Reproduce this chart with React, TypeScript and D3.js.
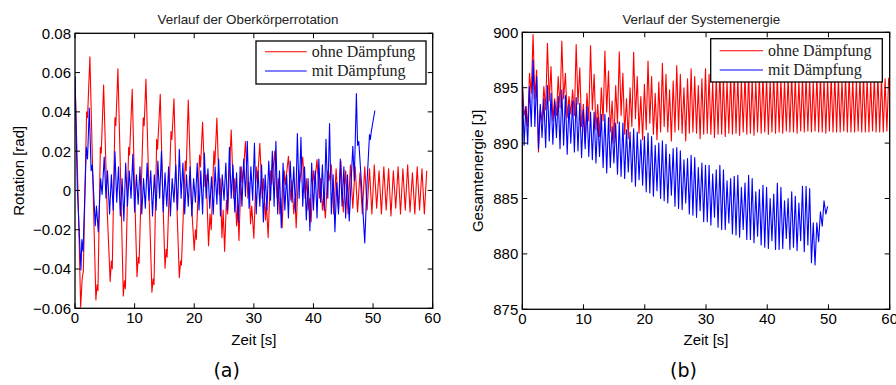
import React from "react";
import * as d3 from "d3";

// ---------- DATA ----------
// (a) Oberkörperrotation [rad] – ohne Dämpfung: [t, value] extremes
const rotOhneHead: [number, number][] = [
  [0, 0.058], [0.5, 0.0], [0.95, -0.0595], [1.2, -0.045], [1.4, -0.041], [1.95, 0.040], [2.1, 0.037], [2.5, 0.068],
  [3.0, 0.005], [3.5, -0.0557], [3.7, -0.048], [3.85, -0.051], [4.25, 0.022], [4.4, 0.019], [4.8, 0.0537],
  [5.4, -0.01], [5.9, -0.0464], [6.1, -0.036], [6.25, -0.04], [6.7, 0.037], [6.85, 0.033], [7.2, 0.0619],
  [7.7, 0.0], [8.1, -0.0537], [8.3, -0.046], [8.45, -0.05], [9.0, 0.022], [9.15, 0.018], [9.6, 0.0515],
  [10.0, 0.0], [10.4, -0.0439], [10.6, -0.034], [10.75, -0.037], [11.45, 0.037], [11.6, 0.033], [11.9, 0.0566],
  [12.4, 0.0], [12.9, -0.0518], [13.1, -0.045], [13.25, -0.048], [13.7, 0.026], [13.85, 0.021], [14.3, 0.049],
  [14.7, 0.0], [15.1, -0.0396], [15.3, -0.03], [15.45, -0.034], [16.1, 0.030], [16.25, 0.026], [16.6, 0.0467],
  [17.0, 0.0], [17.5, -0.0444], [17.7, -0.036], [17.85, -0.038], [18.5, 0.015], [18.65, 0.01], [19.0, 0.046],
  [19.5, -0.005], [20.0, -0.0306], [20.2, -0.02], [20.35, -0.025], [20.9, 0.018], [21.05, 0.012], [21.4, 0.0347],
  [21.8, 0.002], [22.0, 0.008], [22.4, -0.0281], [22.65, -0.012], [22.85, -0.02], [23.3, 0.02], [23.45, 0.013], [23.8, 0.0369],
  [24.2, -0.002], [24.35, 0.006], [24.65, -0.024], [24.85, -0.01], [25.1, -0.031], [25.4, -0.005], [25.6, -0.012], [26.2, 0.0308],
  [26.6, -0.004], [26.8, 0.006], [27.1, -0.018], [27.3, -0.008], [27.5, -0.0255], [27.9, 0.012], [28.1, 0.004], [28.6, 0.0249],
  [29.0, -0.004], [29.2, 0.004], [29.45, -0.017], [29.65, -0.008], [30.0, -0.0243], [30.4, 0.012], [30.6, 0.004], [31.0, 0.024],
  [31.4, -0.004], [31.6, 0.006], [31.95, -0.015], [32.1, -0.006], [32.4, -0.024], [32.8, 0.010], [33.0, 0.003], [33.5, 0.020],
  [33.9, -0.004], [34.1, 0.006], [34.35, -0.012], [34.5, -0.004], [34.75, -0.019], [35.1, 0.010], [35.3, 0.003], [35.8, 0.0174],
  [36.2, -0.005], [36.4, 0.005], [36.7, -0.012], [36.9, -0.004], [37.1, -0.019], [37.5, 0.010], [37.7, 0.004], [38.2, 0.017],
  [38.6, -0.004], [38.8, 0.006], [39.1, -0.010], [39.3, -0.004], [39.6, -0.016], [40.0, 0.010], [40.2, 0.004], [40.6, 0.0157],
  [41.0, -0.004], [41.2, 0.006], [41.5, -0.010], [41.7, -0.003], [42.0, -0.014], [42.4, 0.010], [42.6, 0.005], [43.0, 0.013],
];
// regular tail, alternating extremes every 0.4 s from 43.4 s
const rotOhneTailStart = 43.4;
const rotOhneTailStep = 0.4;
const rotOhneTail: number[] = [
  -0.012, 0.011, -0.010, 0.015, -0.011, 0.010, -0.012, 0.013, -0.009, 0.012,
  -0.011, 0.009, -0.012, 0.012, -0.010, 0.011, -0.012, 0.013, -0.009, 0.010,
  -0.012, 0.012, -0.010, 0.011, -0.013, 0.010, -0.009, 0.012, -0.012, 0.011,
  -0.010, 0.013, -0.011, 0.009, -0.012, 0.012, -0.010, 0.011, -0.012, 0.010,
];

// (a) – mit Dämpfung
const rotMitHead: [number, number][] = [
  [0, 0.058], [0.4, 0.0], [1.0, -0.0405], [1.15, -0.025], [1.35, -0.031], [1.9, 0.022], [2.1, 0.016], [2.4, 0.042],
  [2.7, 0.010], [2.9, 0.013], [3.4, -0.018], [3.6, -0.008], [3.9, -0.021], [4.3, 0.006], [4.55, -0.002], [4.9, 0.017],
  [5.2, -0.004], [5.45, 0.010], [5.8, -0.012],
];
const rotMitStart = 6.1;
const rotMitStep = 0.3;
const rotMitPeaks: number[] = [
  0.008, 0.0198, 0.012, 0.006, 0.014, 0.010, 0.0185, 0.008, 0.012, 0.006,
  0.014, 0.010, 0.008, 0.015, 0.020, 0.009, 0.012, 0.006, 0.013, 0.021,
  0.014, 0.008, 0.012, 0.006, 0.014, 0.010, 0.019, 0.011, 0.007, 0.012,
  0.016, 0.008, 0.014, 0.022, 0.013, 0.009, 0.012, 0.016, 0.025, 0.012,
  0.024, 0.010, 0.013, 0.008, 0.015, 0.020, 0.025, 0.010, 0.014, 0.008,
  0.015, 0.012, 0.029, 0.027, 0.012, 0.006, 0.014, 0.010, 0.016, 0.013,
  0.026, 0.034, 0.008, 0.004, 0.016, 0.012, 0.008,
];
const rotMitTroughs: number[] = [
  -0.010, -0.006, -0.013, -0.0155, -0.008, -0.004, -0.011, -0.007, -0.012, -0.009,
  -0.005, -0.013, -0.010, -0.004, -0.011, -0.008, -0.013, -0.006, -0.010, -0.004,
  -0.012, -0.008, -0.013, -0.006, -0.010, -0.012, -0.004, -0.009, -0.012, -0.007,
  -0.013, -0.005, -0.010, -0.004, -0.011, -0.0163, -0.008, -0.003, -0.009, -0.005,
  -0.012, -0.008, -0.016, -0.010, -0.005, -0.008, -0.012, -0.019, -0.010, -0.014,
  -0.006, -0.011, -0.004, -0.008, -0.015, -0.0205, -0.010, -0.014, -0.006, -0.010,
  -0.004, -0.012, -0.021, -0.012, -0.008, -0.014, -0.0155,
];
const rotMitEnd: [number, number][] = [
  [46.6, 0.0225], [46.85, 0.005], [47.2, 0.0493], [47.4, 0.023], [47.6, 0.025], [48.0, 0.006],
  [48.6, -0.0267], [49.0, 0.005], [49.4, 0.0284], [49.55, 0.026], [49.7, 0.030], [50.3, 0.0407],
];

// (b) Systemenergie [J], sampled at every half oscillation
const energieStep = 0.2933;
const energieOhne: number[] = [
  895.5, 892.5, 893.3, 891.5, 896.3, 894.5, 899.8, 894.0, 896.6, 889.2, 893.0, 892.0, 895.1, 893.0,
  899.0, 893.8, 896.9, 892.0, 894.0, 892.5, 896.0, 893.2,
  899.2, 894.0, 896.3, 892.3, 894.2, 892.6, 894.8, 892.5,
  898.9, 893.5, 896.8, 891.5, 893.5, 890.0, 894.5, 892.0,
  898.8, 893.0, 896.2, 891.2, 893.5, 890.6, 895.0, 892.0,
  898.3, 892.8, 896.5, 891.0, 893.8, 890.0, 895.2, 891.8,
  898.25, 892.5, 896.3, 890.8, 894.0, 890.4, 895.0, 891.5,
  898.2, 892.2, 896.0, 890.9, 894.2, 890.3, 895.3, 891.2,
  897.4, 891.8, 896.0, 890.8, 894.5, 890.3, 895.5, 891.0,
  897.2, 891.5, 896.2, 891.0, 894.8, 890.2, 895.6, 891.0,
  897.0, 891.2, 896.2, 890.9, 895.0, 890.2, 895.8, 890.9,
  896.7, 891.0, 896.0, 890.9, 895.2, 890.4, 895.8, 890.8,
  896.7, 890.9, 896.2, 890.8, 895.5, 890.5, 896.0, 890.8,
  896.5, 890.8, 896.0, 890.6, 895.6, 890.9, 896.1, 890.8,
  896.4, 890.9, 895.9, 890.7, 895.7, 891.0, 896.2, 890.8,
  896.3, 890.9, 895.8, 890.7, 895.6, 891.0, 896.1, 890.9,
  896.2, 891.0, 895.9, 890.8, 895.7, 891.0, 896.2, 890.9,
  896.1, 891.0, 895.8, 890.9, 895.6, 891.1, 896.0, 891.0,
  896.2, 891.0, 895.9, 890.9, 895.7, 891.1, 896.0, 891.0,
  896.1, 891.1, 895.8, 891.0, 895.6, 891.1, 896.0, 891.0,
  896.1, 891.0, 895.8, 890.9, 895.7, 891.1, 896.0, 891.0,
  896.1, 891.0, 895.9, 891.0, 895.7, 891.1, 896.0, 891.0,
  896.2, 891.0, 895.8, 891.0, 895.6, 891.1, 896.0, 891.0,
  896.1, 891.0, 895.9, 891.0, 895.7, 891.1, 896.0, 891.0,
  896.1, 891.0, 895.9, 891.0, 895.8, 891.1, 895.9,
];
const energieMit: number[] = [
  895.9, 889.8, 893.3, 889.9, 895.1, 891.5, 897.5, 891.5, 896.0, 889.5, 893.5, 890.5, 894.0, 889.6,
  895.2, 890.2, 894.5, 889.9, 893.8, 890.5, 894.2, 889.5,
  894.8, 889.8, 894.3, 889.0, 893.5, 890.0, 893.8, 889.2,
  894.1, 889.3, 893.6, 888.7, 893.0, 889.5, 893.3, 888.8,
  892.8, 888.5, 892.8, 888.2, 892.3, 888.8, 892.6, 887.8,
  892.6, 887.3, 892.3, 887.8, 891.5, 888.2, 891.8, 887.2,
  891.9, 887.0, 891.8, 886.8, 891.2, 887.4, 891.0, 886.5,
  891.3, 886.1, 891.0, 886.7, 890.3, 886.2, 890.6, 885.6,
  890.9, 885.5, 890.6, 885.2, 889.8, 885.7, 890.0, 885.0,
  890.2, 884.8, 889.9, 884.6, 889.0, 885.3, 889.5, 884.3,
  889.6, 884.1, 889.3, 884.0, 888.5, 884.6, 888.6, 883.6,
  888.9, 883.5, 888.7, 883.3, 887.8, 883.9, 888.2, 882.9,
  888.0, 882.9, 888.0, 882.6, 887.2, 883.3, 887.6, 882.4,
  888.0, 882.2, 887.6, 882.2, 886.6, 882.8, 886.8, 881.8,
  887.0, 881.7, 887.1, 881.5, 886.0, 882.2, 886.4, 881.3,
  887.1, 881.3, 886.8, 881.0, 885.6, 881.6, 885.8, 880.8,
  886.2, 880.6, 886.0, 880.5, 885.0, 881.2, 885.4, 880.4,
  886.4, 880.4, 886.0, 880.5, 884.8, 881.4, 885.0, 880.4,
  885.6, 880.6, 885.2, 880.3, 884.6, 881.2, 886.1, 880.2,
  886.1, 880.8, 885.9, 879.2, 882.8, 879.0, 882.8, 881.1, 883.8, 882.5, 884.8, 883.6, 884.3,
];

const xTicks = [0, 10, 20, 30, 40, 50, 60];
const rotTicks = [-0.06, -0.04, -0.02, 0, 0.02, 0.04, 0.06, 0.08];
const energieTicks = [875, 880, 885, 890, 895, 900];
const seriesNames = ["ohne Dämpfung", "mit Dämpfung"];
const seriesColors = ["#ff0000", "#0000ff"];

// ---------- build series ----------
const rotOhne: [number, number][] = [
  ...rotOhneHead,
  ...rotOhneTail.map((v, i) => [rotOhneTailStart + i * rotOhneTailStep, v] as [number, number]),
];
const rotMitMid: [number, number][] = [];
rotMitPeaks.forEach((p, i) => {
  rotMitMid.push([rotMitStart + i * 2 * rotMitStep, p]);
  rotMitMid.push([rotMitStart + (i * 2 + 1) * rotMitStep, rotMitTroughs[i]]);
});
const rotMit: [number, number][] = [...rotMitHead, ...rotMitMid, ...rotMitEnd];
const eOhne: [number, number][] = energieOhne.map((v, i) => [i * energieStep, v]);
const eMit: [number, number][] = energieMit.map((v, i) => [i * energieStep, v]);

type PanelProps = {
  id: string;
  left: number; right: number; top: number; bottom: number;
  yDomain: [number, number];
  yTicks: number[];
  fmt: (v: number) => string;
  series: [number, number][][];
  title: string; titleX: number;
  yLabel: string; yLabelX: number;
  legend: { x0: number; x1: number; y0: number; y1: number; lx0: number; lx1: number; tx: number; ly: number[] };
  sub: string; subX: number;
};

function Panel(p: PanelProps) {
  const x = d3.scaleLinear().domain([0, 60]).range([p.left, p.right]);
  const y = d3.scaleLinear().domain(p.yDomain).range([p.bottom, p.top]);
  const line = d3.line<[number, number]>().x((d) => x(d[0])).y((d) => y(d[1]));
  const tl = 5;
  const sans = "'Liberation Sans', Arial, sans-serif";
  return (
    <g>
      <defs>
        <clipPath id={p.id}>
          <rect x={p.left} y={p.top} width={p.right - p.left} height={p.bottom - p.top} />
        </clipPath>
      </defs>
      <rect x={p.left} y={p.top} width={p.right - p.left} height={p.bottom - p.top} fill="#fff" />
      <g clipPath={`url(#${p.id})`}>
        {p.series.map((s, i) => (
          <path key={i} d={line(s) || ""} fill="none" stroke={seriesColors[i]} strokeWidth={1.1} strokeLinejoin="round" />
        ))}
      </g>
      {/* ticks */}
      {xTicks.map((t) => (
        <g key={"x" + t}>
          <line x1={x(t)} x2={x(t)} y1={p.bottom} y2={p.bottom - tl} stroke="#000" strokeWidth={1} />
          <line x1={x(t)} x2={x(t)} y1={p.top} y2={p.top + tl} stroke="#000" strokeWidth={1} />
          <text x={x(t)} y={p.bottom + 14.4} fontFamily={sans} fontSize={15} textAnchor="middle" fill="#000">{t}</text>
        </g>
      ))}
      {p.yTicks.map((t) => (
        <g key={"y" + t}>
          <line x1={p.left} x2={p.left + tl} y1={y(t)} y2={y(t)} stroke="#000" strokeWidth={1} />
          <line x1={p.right} x2={p.right - tl} y1={y(t)} y2={y(t)} stroke="#000" strokeWidth={1} />
          <text x={p.left - 4} y={y(t) + 5.4} fontFamily={sans} fontSize={15} textAnchor="end" fill="#000">{p.fmt(t)}</text>
        </g>
      ))}
      <rect x={p.left} y={p.top} width={p.right - p.left} height={p.bottom - p.top} fill="none" stroke="#000" strokeWidth={1.3} />
      {/* legend */}
      <rect x={p.legend.x0} y={p.legend.y0} width={p.legend.x1 - p.legend.x0} height={p.legend.y1 - p.legend.y0} fill="#fff" stroke="#000" strokeWidth={1.3} />
      {seriesNames.map((n, i) => (
        <g key={n}>
          <line x1={p.legend.lx0} x2={p.legend.lx1} y1={p.legend.ly[i]} y2={p.legend.ly[i]} stroke={seriesColors[i]} strokeWidth={1.1} />
          <text x={p.legend.tx} y={p.legend.ly[i] + 5} fontFamily="'Liberation Serif', 'Times New Roman', serif" fontSize={16} fill="#222">{n}</text>
        </g>
      ))}
      {/* titles */}
      <text x={p.titleX} y={23.5} fontFamily={sans} fontSize={13.4} textAnchor="middle" fill="#222">{p.title}</text>
      <text x={(p.left + p.right) / 2} y={345} fontFamily={sans} fontSize={15} textAnchor="middle" fill="#000">Zeit [s]</text>
      <text transform={`translate(${p.yLabelX},${(p.top + p.bottom) / 2}) rotate(-90)`} fontFamily={sans} fontSize={15} textAnchor="middle" fill="#000">{p.yLabel}</text>
      <text x={p.subX} y={377} fontFamily="'DejaVu Sans', sans-serif" fontSize={19} textAnchor="middle" fill="#000">{p.sub}</text>
    </g>
  );
}

export default function App() {
  const fmtRot = (v: number) => (Math.abs(v) < 1e-9 ? "0" : d3.format(".2f")(v));
  const fmtE = (v: number) => String(v);
  return (
    <svg width={896} height={385} style={{ position: "absolute", left: 0, top: 0, background: "#fff" }}>
      <rect width={896} height={385} fill="#fff" />
      <Panel
        id="clipA" left={75} right={432.7} top={33.3} bottom={308.3}
        yDomain={[-0.06, 0.08]} yTicks={rotTicks} fmt={fmtRot}
        series={[rotOhne, rotMit]}
        title="Verlauf der Oberkörperrotation" titleX={248}
        yLabel="Rotation [rad]" yLabelX={23.5}
        legend={{ x0: 256, x1: 426, y0: 41, y1: 84, lx0: 265, lx1: 306.7, tx: 311.7, ly: [51.7, 71] }}
        sub="(a)" subX={226.7}
      />
      <Panel
        id="clipB" left={522.3} right={889.7} top={32.3} bottom={309.3}
        yDomain={[875, 900]} yTicks={energieTicks} fmt={fmtE}
        series={[eOhne, eMit]}
        title="Verlauf der Systemenergie" titleX={701.3}
        yLabel="Gesamtenergie [J]" yLabelX={482.5}
        legend={{ x0: 710.7, x1: 882.3, y0: 38.7, y1: 82, lx0: 719.7, lx1: 763, tx: 768, ly: [50.7, 70] }}
        sub="(b)" subX={683.5}
      />
    </svg>
  );
}
